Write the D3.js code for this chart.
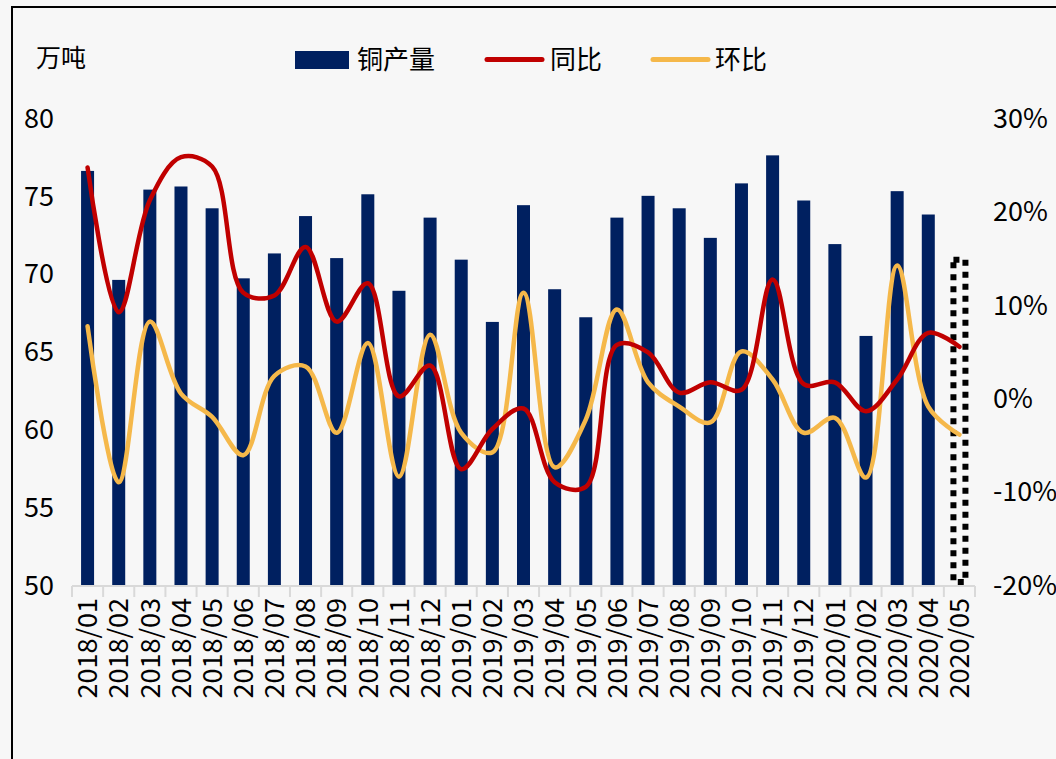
<!DOCTYPE html>
<html>
<head>
 <meta charset="utf-8">
 <title>铜产量</title>
 <script src="https://cdnjs.cloudflare.com/ajax/libs/d3/7.8.5/d3.min.js"></script>
 <style>
  body { margin: 0; background: #f7f7f7; }
  text { font-family: "Noto Sans CJK SC", "Noto Sans", sans-serif; fill: #000; }
 </style>
</head>
<body>
 <svg id="chart" width="1056" height="759"></svg>

 <script type="text/javascript">

 var months = ["2018/01","2018/02","2018/03","2018/04","2018/05","2018/06","2018/07","2018/08","2018/09","2018/10","2018/11","2018/12",
               "2019/01","2019/02","2019/03","2019/04","2019/05","2019/06","2019/07","2019/08","2019/09","2019/10","2019/11","2019/12",
               "2020/01","2020/02","2020/03","2020/04","2020/05"];

 // 铜产量 (万吨)
 var output = [76.6, 69.6, 75.4, 75.6, 74.2, 69.7, 71.3, 73.7, 71.0, 75.1, 68.9, 73.6,
               70.9, 66.9, 74.4, 69.0, 67.2, 73.6, 75.0, 74.2, 72.3, 75.8, 77.6, 74.7,
               71.9, 66.0, 75.3, 73.8, 70.9];

 // 同比 (%)
 var yoy = [24.7, 9.2, 21.2, 25.8, 24.8, 11.3, 11.0, 16.2, 8.2, 12.3, 0.2, 3.5,
            -7.6, -3.3, -1.1, -9.0, -9.5, 5.7, 4.9, 0.6, 1.7, 0.9, 12.7, 1.5,
            1.7, -1.4, 2.0, 7.0, 5.5];

 // 环比 (%)
 var mom = [7.7, -9.0, 8.2, 0.5, -2.0, -6.1, 2.4, 3.4, -3.7, 5.9, -8.4, 6.8,
            -3.7, -5.8, 11.3, -7.4, -2.3, 9.5, 1.7, -0.9, -2.6, 5.0, 2.0, -3.7,
            -2.1, -8.5, 14.2, -0.9, -3.9];

 var leftTicks = [50, 55, 60, 65, 70, 75, 80];
 var rightTicks = [-20, -10, 0, 10, 20, 30];

 var svg = d3.select("#chart");

 svg.append("rect").attr("width", 1056).attr("height", 759).attr("fill", "#f7f7f7");
 // frame (left + top edge)
 svg.append("path").attr("d", "M12,759V7H1056")
   .attr("fill", "none").attr("stroke", "#000").attr("stroke-width", 2);

 var x = d3.scaleBand().domain(months).range([72, 975]);
 var yL = d3.scaleLinear().domain([50, 80]).range([585, 118]);
 var yR = d3.scaleLinear().domain([-20, 30]).range([585, 118]);
 var barW = 13;

 // bars
 svg.append("g").selectAll("rect")
   .data(output)
   .enter().append("rect")
   .attr("x", function(d, i) { return x(months[i]) + x.bandwidth() / 2 - barW / 2; })
   .attr("width", barW)
   .attr("y", function(d) { return yL(d); })
   .attr("height", function(d) { return yL(50) - yL(d); })
   .attr("fill", function(d, i) { return i == output.length - 1 ? "none" : "#002060"; });

 // last month: dotted outline only
 var last = output.length - 1;
 svg.append("rect")
   .attr("x", x(months[last]) + x.bandwidth() / 2 - 6)
   .attr("width", 12)
   .attr("y", yL(output[last]))
   .attr("height", yL(50) - yL(output[last]) - 3)
   .attr("fill", "none")
   .attr("stroke", "#000")
   .attr("stroke-width", 6)
   .attr("stroke-dasharray", "6,6");

 // x axis
 var ax = svg.append("g");
 ax.append("line").attr("x1", 72).attr("x2", 975).attr("y1", 586).attr("y2", 586)
   .attr("stroke", "#d9d9d9").attr("stroke-width", 2);
 ax.selectAll("line.tick")
   .data(d3.range(months.length + 1))
   .enter().append("line")
   .attr("class", "tick")
   .attr("x1", function(i) { return 72 + i * x.step(); })
   .attr("x2", function(i) { return 72 + i * x.step(); })
   .attr("y1", 586).attr("y2", 597)
   .attr("stroke", "#d9d9d9").attr("stroke-width", 2);
 ax.selectAll("text")
   .data(months)
   .enter().append("text")
   .attr("transform", function(d) {
     return "translate(" + (x(d) + x.bandwidth() / 2) + ",598) rotate(-90)";
   })
   .attr("text-anchor", "end")
   .attr("dy", "0.36em")
   .style("font-size", "27px")
   .text(function(d) { return d; });

 // left axis labels
 svg.append("g").selectAll("text")
   .data(leftTicks)
   .enter().append("text")
   .attr("x", 54).attr("y", function(d) { return yL(d); })
   .attr("dy", "0.36em")
   .attr("text-anchor", "end")
   .style("font-size", "27px")
   .text(function(d) { return d; });

 // right axis labels
 svg.append("g").selectAll("text")
   .data(rightTicks)
   .enter().append("text")
   .attr("x", 993).attr("y", function(d) { return yR(d); })
   .attr("dy", "0.36em")
   .style("font-size", "27px")
   .text(function(d) { return d + "%"; });

 svg.append("text").attr("x", 36).attr("y", 67).style("font-size", "25px").text("万吨");

 // lines
 var line = d3.line()
   .x(function(d, i) { return x(months[i]) + x.bandwidth() / 2; })
   .y(function(d) { return yR(d); })
   .curve(d3.curveCatmullRom.alpha(0.5));

 svg.append("path").datum(mom)
   .attr("d", line)
   .attr("fill", "none").attr("stroke", "#f5b84a").attr("stroke-width", 4.5)
   .attr("stroke-linecap", "round");

 svg.append("path").datum(yoy)
   .attr("d", line)
   .attr("fill", "none").attr("stroke", "#c00000").attr("stroke-width", 4.5)
   .attr("stroke-linecap", "round");

 // legend
 var lg = svg.append("g");
 lg.append("rect").attr("x", 295).attr("y", 51).attr("width", 54).attr("height", 18).attr("fill", "#002060");
 lg.append("text").attr("x", 357).attr("y", 69).style("font-size", "26px").text("铜产量");
 lg.append("line").attr("x1", 487).attr("x2", 542).attr("y1", 59.5).attr("y2", 59.5)
   .attr("stroke", "#c00000").attr("stroke-width", 5).attr("stroke-linecap", "round");
 lg.append("text").attr("x", 550).attr("y", 69).style("font-size", "26px").text("同比");
 lg.append("line").attr("x1", 653).attr("x2", 708).attr("y1", 59.5).attr("y2", 59.5)
   .attr("stroke", "#f5b84a").attr("stroke-width", 5).attr("stroke-linecap", "round");
 lg.append("text").attr("x", 715).attr("y", 69).style("font-size", "26px").text("环比");

 </script>
</body>
</html>
